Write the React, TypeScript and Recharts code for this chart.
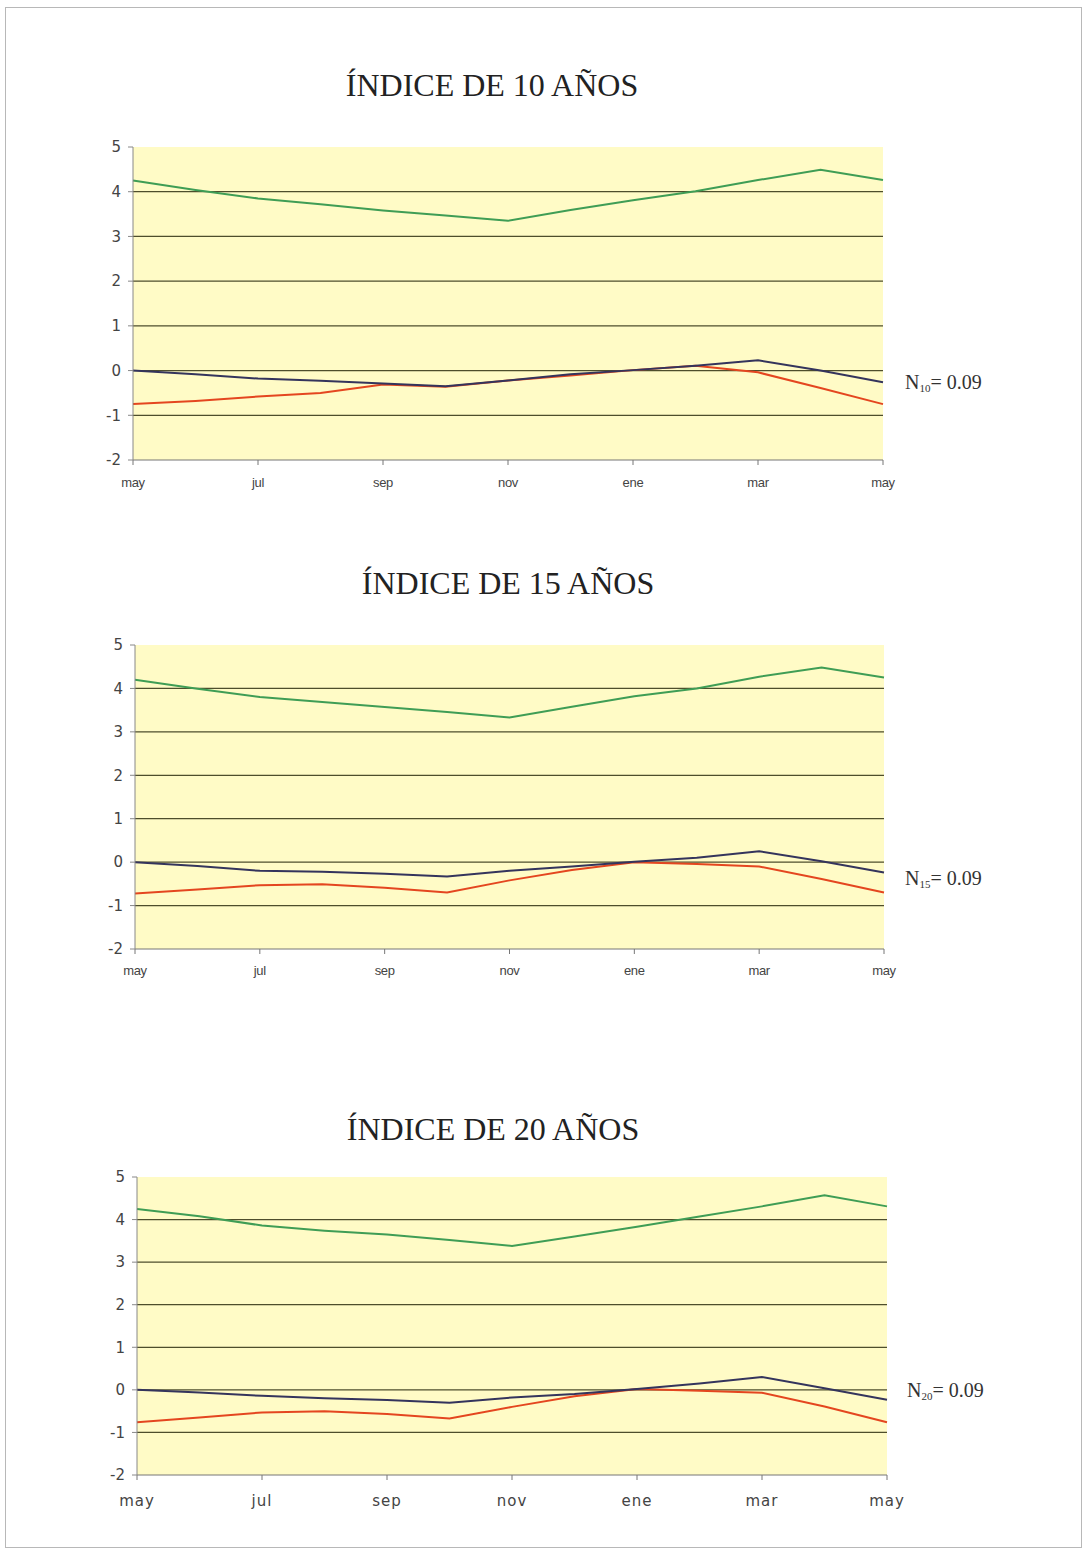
import React from 'react';
import {
  LineChart,
  Line,
  XAxis,
  YAxis,
  ReferenceArea,
  ReferenceLine,
} from 'recharts';

// meses de mayo a mayo
const meses = ['may', 'jun', 'jul', 'ago', 'sep', 'oct', 'nov', 'dic', 'ene', 'feb', 'mar', 'abr', 'may'];
const ticksX = [0, 2, 4, 6, 8, 10, 12];
const ticksY = [-2, -1, 0, 1, 2, 3, 4, 5];
const lineasGuia = [-1, 0, 1, 2, 3, 4];

// índice de 10 años
const verde10 = [4.25, 4.04, 3.85, 3.72, 3.58, 3.47, 3.35, 3.59, 3.81, 4.01, 4.26, 4.49, 4.26];
const azul10 = [0, -0.08, -0.18, -0.23, -0.29, -0.35, -0.22, -0.08, 0.01, 0.11, 0.23, 0.0, -0.26];
const rojo10 = [-0.75, -0.68, -0.58, -0.5, -0.31, -0.36, -0.22, -0.11, 0.01, 0.11, -0.04, -0.39, -0.75];

// índice de 15 años
const verde15 = [4.2, 3.99, 3.8, 3.69, 3.57, 3.46, 3.33, 3.58, 3.82, 4.0, 4.27, 4.48, 4.25];
const azul15 = [0, -0.09, -0.2, -0.22, -0.27, -0.33, -0.2, -0.1, 0.01, 0.1, 0.25, 0.02, -0.24];
const rojo15 = [-0.72, -0.63, -0.53, -0.51, -0.59, -0.7, -0.42, -0.18, 0.0, -0.04, -0.1, -0.39, -0.7];

// índice de 20 años
const verde20 = [4.25, 4.08, 3.86, 3.74, 3.65, 3.52, 3.38, 3.6, 3.83, 4.07, 4.31, 4.57, 4.31];
const azul20 = [0, -0.06, -0.14, -0.2, -0.24, -0.3, -0.18, -0.1, 0.02, 0.15, 0.3, 0.04, -0.23];
const rojo20 = [-0.76, -0.65, -0.53, -0.5, -0.57, -0.67, -0.4, -0.15, 0.02, -0.02, -0.07, -0.39, -0.76];

const armar = (verde: number[], azul: number[], rojo: number[]) =>
  meses.map((mes, i) => ({ i, mes, verde: verde[i], azul: azul[i], rojo: rojo[i] }));

const SERIF = '"Liberation Serif", "Times New Roman", serif';

interface PanelProps {
  titulo: string;
  tituloX: number;
  tituloY: number;
  sub: string;
  nX: number;
  nY: number;
  data: ReturnType<typeof armar>;
  left: number;
  right: number;
  top: number;
  bottom: number;
  xFont: React.CSSProperties;
  xMargin: number;
}

const Panel: React.FC<PanelProps> = ({
  titulo, tituloX, tituloY, sub, nX, nY, data, left, right, top, bottom, xFont, xMargin,
}) => {
  const mL = 60;
  const mT = 20;
  const mR = 40;
  const mB = 40;
  const w = right - left + mL + mR;
  const h = bottom - top + mT + mB;
  return (
    <>
      <div
        style={{
          position: 'absolute', left: tituloX - 200, top: tituloY, width: 400, textAlign: 'center',
          fontFamily: SERIF, fontSize: 32, lineHeight: '34px', color: '#222',
        }}
      >
        {titulo}
      </div>
      <div
        style={{
          position: 'absolute', left: nX, top: nY, fontFamily: SERIF, fontSize: 20,
          lineHeight: '20px', color: '#333', whiteSpace: 'nowrap',
        }}
      >
        N<span style={{ fontSize: 11, position: 'relative', top: 3 }}>{sub}</span>= 0.09
      </div>
      <div style={{ position: 'absolute', left: left - mL, top: top - mT }}>
        <LineChart width={w} height={h} data={data} margin={{ top: mT, right: mR, left: 0, bottom: mB - 30 }}>
          <ReferenceArea y1={-2} y2={5} fill="#fffbc6" fillOpacity={1} stroke="none" ifOverflow="visible" />
          {lineasGuia.map(v => (
            <ReferenceLine key={v} y={v} stroke="#4e4e2c" strokeWidth={1.2} />
          ))}
          <XAxis
            dataKey="i"
            type="number"
            domain={[0, 12]}
            ticks={ticksX}
            tickFormatter={(v: number) => meses[v]}
            height={30}
            tickSize={5}
            tickMargin={xMargin}
            axisLine={{ stroke: '#777' }}
            tickLine={{ stroke: '#777' }}
            tick={{ fill: '#444', ...xFont } as any}
          />
          <YAxis
            domain={[-2, 5]}
            ticks={ticksY}
            width={mL}
            tickSize={5}
            tickMargin={7}
            interval={0}
            axisLine={{ stroke: '#888' }}
            tickLine={{ stroke: '#888' }}
            tick={{ fill: '#444', fontSize: 15, fontFamily: '"DejaVu Sans", Verdana, sans-serif' }}
          />
          <Line dataKey="verde" stroke="#3f9d55" strokeWidth={2} dot={false} isAnimationActive={false} />
          <Line dataKey="rojo" stroke="#e4461f" strokeWidth={2} dot={false} isAnimationActive={false} />
          <Line dataKey="azul" stroke="#34345c" strokeWidth={2} dot={false} isAnimationActive={false} />
        </LineChart>
      </div>
    </>
  );
};

const ejeChico = { fontSize: 13, fontFamily: '"Liberation Sans", Arial, sans-serif', letterSpacing: -0.3 };
const ejeGrande = { fontSize: 15, fontFamily: '"DejaVu Sans", Verdana, sans-serif', letterSpacing: 1 };

export default function App() {
  return (
    <div style={{ position: 'absolute', left: 0, top: 0, width: 1086, height: 1554, background: '#fff' }}>
      <div
        style={{
          position: 'absolute', left: 5, top: 7, width: 1077, height: 1541,
          border: '1px solid #b8b8b8', boxSizing: 'border-box',
        }}
      />
      <Panel
        titulo="ÍNDICE DE 10 AÑOS" tituloX={492} tituloY={68} sub="10" nX={905} nY={372}
        data={armar(verde10, azul10, rojo10)}
        left={133} right={883} top={147} bottom={460} xFont={ejeChico} xMargin={13}
      />
      <Panel
        titulo="ÍNDICE DE 15 AÑOS" tituloX={508} tituloY={566} sub="15" nX={905} nY={868}
        data={armar(verde15, azul15, rojo15)}
        left={135} right={884} top={645} bottom={949} xFont={ejeChico} xMargin={12}
      />
      <Panel
        titulo="ÍNDICE DE 20 AÑOS" tituloX={493} tituloY={1112} sub="20" nX={907} nY={1380}
        data={armar(verde20, azul20, rojo20)}
        left={137} right={887} top={1177} bottom={1475} xFont={ejeGrande} xMargin={15}
      />
    </div>
  );
}
